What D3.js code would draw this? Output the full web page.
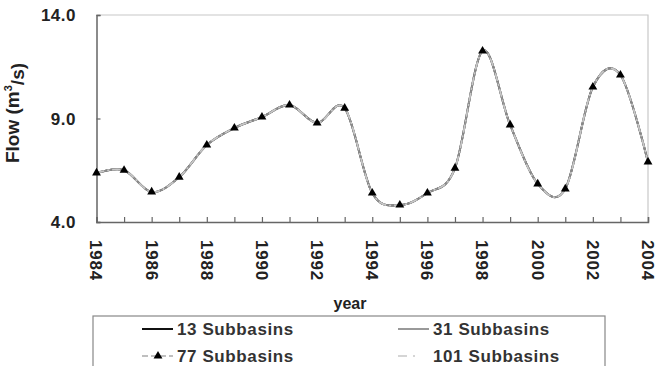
<!DOCTYPE html>
<html>
<head>
<meta charset="utf-8">
<script src="https://cdn.jsdelivr.net/npm/d3@7"></script>
<style>
  body { margin: 0; background: #fff; }
  svg { font-family: Arial, "Liberation Sans", sans-serif; }
</style>
</head>
<body>
<div id="chart"></div>
<script>
const years = d3.range(1984, 2005);
const flow13 = [6.37, 6.5, 5.45, 6.17, 7.72, 8.54, 9.07, 9.65, 8.78, 9.5, 5.4,
  4.82, 5.4, 6.6, 12.26, 8.69, 5.84, 5.6, 10.52, 11.1, 6.9];
const flow31 = [6.37, 6.5, 5.45, 6.17, 7.72, 8.54, 9.07, 9.65, 8.78, 9.5, 5.4,
  4.82, 5.4, 6.6, 12.26, 8.69, 5.84, 5.6, 10.52, 11.1, 6.9];
const flow77 = [6.37, 6.5, 5.45, 6.17, 7.72, 8.54, 9.07, 9.65, 8.78, 9.5, 5.4,
  4.82, 5.4, 6.6, 12.26, 8.69, 5.84, 5.6, 10.52, 11.1, 6.9];
const flow101 = [6.37, 6.5, 5.45, 6.17, 7.72, 8.54, 9.07, 9.65, 8.78, 9.5, 5.4,
  4.82, 5.4, 6.6, 12.26, 8.69, 5.84, 5.6, 10.52, 11.1, 6.9];
const yTicks = [4.0, 9.0, 14.0];
const xLabels = d3.range(1984, 2005, 2);
const seriesNames = ["13 Subbasins", "31 Subbasins", "77 Subbasins", "101 Subbasins"];

const W = 668, H = 366;
const svg = d3.select("#chart").append("svg").attr("width", W).attr("height", H);

const x = d3.scaleLinear().domain([1984, 2004]).range([96.5, 648]);
const y = d3.scaleLinear().domain([4, 14]).range([222, 15]);

// plot border (top/right light)
svg.append("path")
  .attr("d", `M${x(1984)},${y(14)}H${x(2004)}V${y(4)}`)
  .attr("fill", "none").attr("stroke", "#c8c8c8").attr("stroke-width", 1.2);

// left & bottom axes
const yAxis = svg.append("g").attr("transform", `translate(${x(1984)},0)`)
  .call(d3.axisRight(y).tickValues(yTicks).tickSize(4).tickFormat(""));
const xAxis = svg.append("g").attr("transform", `translate(0,${y(4)})`)
  .call(d3.axisTop(x).tickValues(years).tickSize(5).tickFormat(""));
[yAxis, xAxis].forEach(g => {
  g.select(".domain").attr("stroke", "#666").attr("stroke-width", 1.5);
  g.selectAll(".tick line").attr("stroke", "#666").attr("stroke-width", 1.2);
});

// y tick labels
svg.selectAll(".ylab").data(yTicks).join("text")
  .attr("x", 76).attr("y", d => y(d)).attr("dy", "0.36em")
  .attr("text-anchor", "end").attr("font-size", 17).attr("font-weight", "bold")
  .attr("letter-spacing", 0.5).attr("fill", "#222").text(d => d.toFixed(1));

// x tick labels, rotated
svg.selectAll(".xlab").data(xLabels).join("text")
  .attr("transform", d => `translate(${x(d)},240) rotate(90)`)
  .attr("dy", "0.36em").attr("font-size", 17).attr("font-weight", "bold")
  .attr("letter-spacing", 0.8).attr("fill", "#222").text(d => d);

// axis titles
const yt = svg.append("text")
  .attr("transform", "translate(12,113) rotate(-90)")
  .attr("text-anchor", "middle").attr("dy", "0.36em")
  .attr("font-size", 19).attr("font-weight", "bold").attr("fill", "#222");
yt.append("tspan").text("Flow (m");
yt.append("tspan").attr("font-size", 11).attr("dy", "-0.6em").text("3");
yt.append("tspan").attr("dy", "0.6em").text("/s)");

svg.append("text").attr("x", 350).attr("y", 303).attr("dy", "0.36em")
  .attr("text-anchor", "middle").attr("font-size", 16).attr("font-weight", "bold")
  .attr("fill", "#222").text("year");

// series
const styles = [
  { data: flow13, stroke: "#111", width: 2, dash: null },
  { data: flow31, stroke: "#999", width: 2, dash: null },
  { data: flow77, stroke: "#888", width: 1.6, dash: "5,2" },
  { data: flow101, stroke: "#c8c8c8", width: 1.6, dash: "8,3,2,3" }
];
const line = d3.line()
  .x((d, i) => x(years[i]))
  .y(d => y(d))
  .curve(d3.curveCardinal.tension(0));

const plot = svg.append("g");
styles.forEach(s => {
  plot.append("path").datum(s.data)
    .attr("d", line).attr("fill", "none")
    .attr("stroke", s.stroke).attr("stroke-width", s.width)
    .attr("stroke-dasharray", s.dash);
});

const tri = d3.symbol().type(d3.symbolTriangle).size(34);
plot.selectAll(".mk").data(flow77).join("path")
  .attr("transform", (d, i) => `translate(${x(years[i])},${y(d)})`)
  .attr("d", tri).attr("fill", "#000");

// legend
const lg = svg.append("g");
lg.append("rect").attr("x", 93).attr("y", 316).attr("width", 512).attr("height", 60)
  .attr("fill", "#fff").attr("stroke", "#888").attr("stroke-width", 1.2);

const legPos = [
  { lx: 142, ty: 329 }, { lx: 398, ty: 329 },
  { lx: 142, ty: 356 }, { lx: 398, ty: 356 }
];
styles.forEach((s, i) => {
  const p = legPos[i];
  lg.append("line").attr("x1", p.lx).attr("x2", p.lx + 31)
    .attr("y1", p.ty).attr("y2", p.ty)
    .attr("stroke", i === 1 ? "#999" : i === 2 ? "#aaa" : s.stroke)
    .attr("stroke-width", s.width)
    .attr("stroke-dasharray", i === 2 ? "6,3" : i === 3 ? "9,6,2,20" : null);
  if (i === 2) {
    lg.append("path").attr("transform", `translate(${p.lx + 16},${p.ty})`)
      .attr("d", tri).attr("fill", "#000");
  }
  lg.append("text").attr("x", p.lx + 35).attr("y", p.ty).attr("dy", "0.36em")
    .attr("font-size", 17).attr("font-weight", "bold").attr("fill", "#333")
    .attr("letter-spacing", 0.6).text(seriesNames[i]);
});
</script>
</body>
</html>
